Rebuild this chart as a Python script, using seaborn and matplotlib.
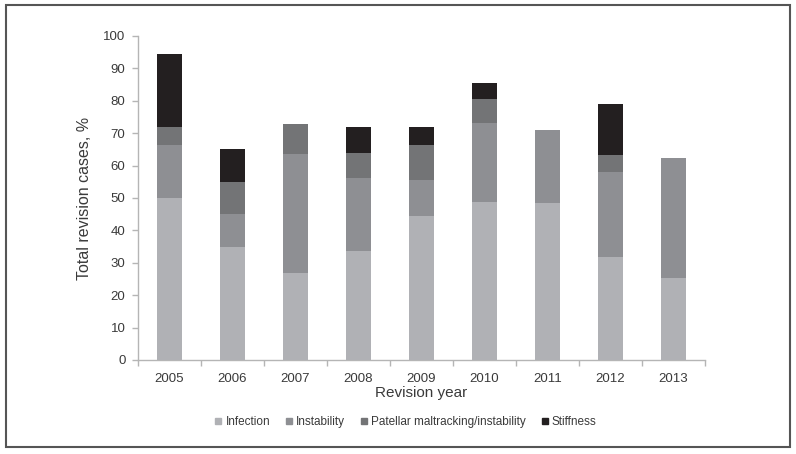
import pandas as pd
import seaborn as sns
import matplotlib.pyplot as plt
from matplotlib.patches import Rectangle
from matplotlib.lines import Line2D

years = ["2005", "2006", "2007", "2008", "2009", "2010", "2011", "2012", "2013"]
infection = [50.0, 35.0, 27.0, 33.5, 44.5, 48.7, 48.5, 31.7, 25.2]
instability = [16.5, 10.0, 36.5, 22.8, 11.0, 24.5, 22.6, 26.2, 37.2]
patellar = [5.5, 10.0, 9.2, 7.7, 11.0, 7.4, 0.0, 5.4, 0.0]
stiffness = [22.3, 10.0, 0.0, 7.8, 5.5, 4.9, 0.0, 15.8, 0.0]

causes = ["Infection", "Instability", "Patellar maltracking/instability", "Stiffness"]
colors = ["#b0b1b5", "#8e8f93", "#737476", "#231f20"]

sns.set_theme(style="white")
plt.rcParams["font.family"] = ["Liberation Sans", "DejaVu Sans"]

df = pd.DataFrame({"year": years, "Infection": infection, "Instability": instability,
                   "Patellar maltracking/instability": patellar, "Stiffness": stiffness})
cum = df[causes].cumsum(axis=1)
cum["year"] = df["year"]

fig = plt.figure(figsize=(7.96, 4.54), dpi=100)
ax = fig.add_axes([138 / 796, 1 - 360 / 454, (705 - 138) / 796, (360 - 36) / 454])

# draw from the top layer down so lower layers cover the upper ones
for cause, col in reversed(list(zip(causes, colors))):
    sns.barplot(data=cum, x="year", y=cause, order=years, color=col, width=0.4,
                saturation=1, ax=ax, linewidth=0)

text_col = "#3a3a3a"
ax.set_xlim(-0.5, 8.5)
ax.set_ylim(0, 100)
ax.set_yticks(range(0, 101, 10))
ax.set_xticks([i - 0.5 for i in range(10)], minor=True)
ax.tick_params(axis="x", which="major", length=0, pad=9, labelsize=9.5, colors=text_col)
ax.tick_params(axis="x", which="minor", length=4, width=1, color="#b5b5b5", direction="out", bottom=True)
ax.tick_params(axis="y", length=4, width=1, color="#b5b5b5", direction="out", left=True,
               labelsize=9.5, colors=text_col, pad=5)
for s in ["top", "right"]:
    ax.spines[s].set_visible(False)
for s in ["left", "bottom"]:
    ax.spines[s].set_color("#b5b5b5")
    ax.spines[s].set_linewidth(1)

ax.set_xlabel("Revision year", fontsize=11, color=text_col, labelpad=1)
ax.set_ylabel("Total revision cases, %", fontsize=11.5, color=text_col, labelpad=8)

handles = [Line2D([], [], marker="s", linestyle="", markersize=5, color=c) for c in colors]
fig.legend(handles, causes, loc="center", bbox_to_anchor=(404 / 796, 1 - 422 / 454), ncol=4,
           frameon=False, fontsize=8.5, handletextpad=0.0, columnspacing=1.0,
           handlelength=1.2, labelcolor=text_col)

fig.patches.append(Rectangle((6 / 796, 1 - 447 / 454), (790 - 6) / 796, (447 - 5) / 454,
                             transform=fig.transFigure, fill=False, edgecolor="#555555",
                             linewidth=1.5))

fig.savefig("out.png", dpi=100)
